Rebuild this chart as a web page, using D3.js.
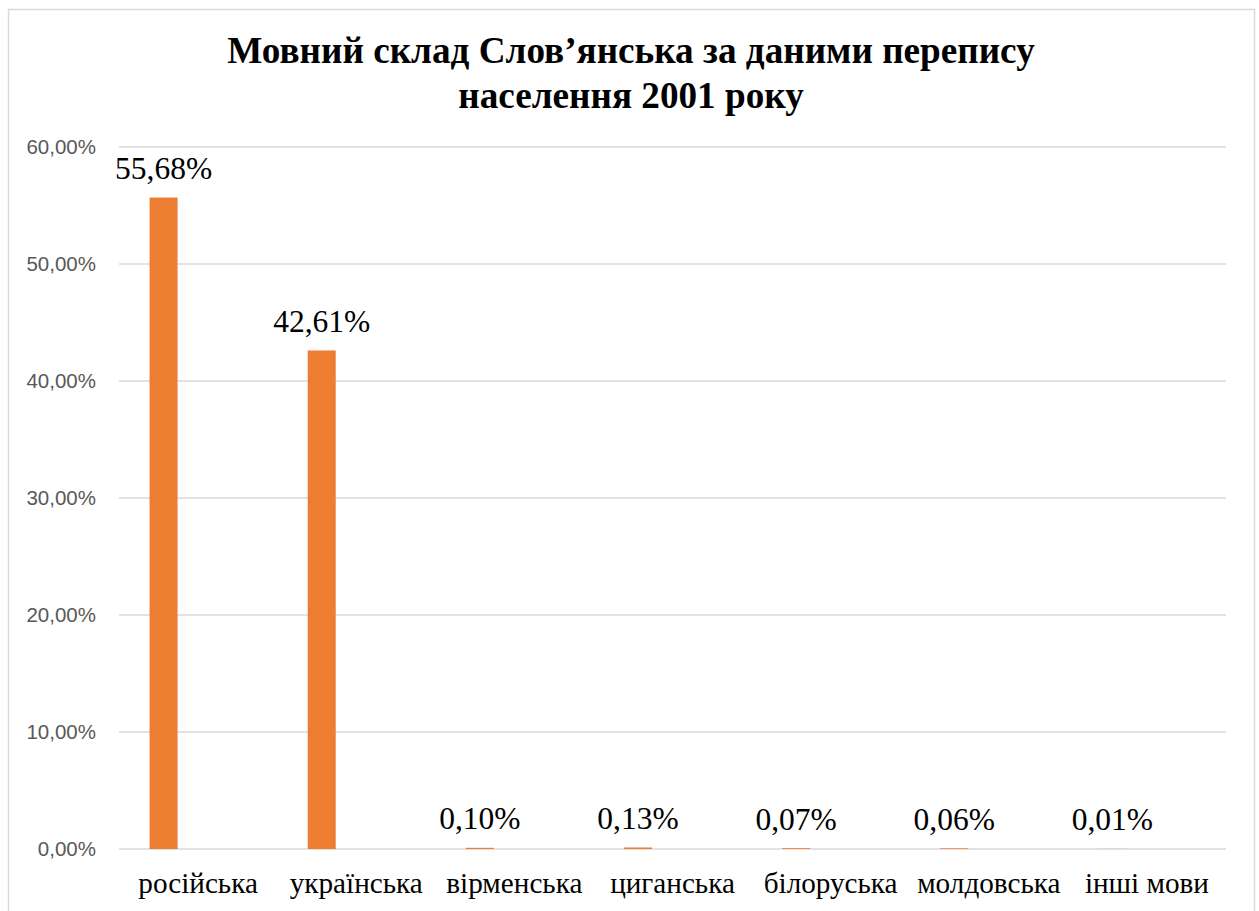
<!DOCTYPE html>
<html><head><meta charset="utf-8">
<script src="https://cdn.jsdelivr.net/npm/d3@7"></script>
<style>html,body{margin:0;padding:0;background:#fff;overflow:hidden}
.serif{font-family:"Liberation Serif","Times New Roman",Times,serif}
.sans{font-family:"Liberation Sans",Arial,sans-serif}
</style>
</head><body>
<script>
const categories = ["російська","українська","вірменська","циганська","білоруська","молдовська","інші мови"];
const values = [55.68, 42.61, 0.10, 0.13, 0.07, 0.06, 0.01];
const valueLabels = ["55,68%","42,61%","0,10%","0,13%","0,07%","0,06%","0,01%"];
const yTicks = [0,10,20,30,40,50,60];
const titleLines = ["Мовний склад Слов’янська за даними перепису","населення 2001 року"];

(function(){
const W=1259,H=911;
const svg=d3.select("body").append("svg").attr("width",W).attr("height",H);
svg.append("rect").attr("x",8.5).attr("y",9.5).attr("width",1246).attr("height",920)
  .attr("fill","#fff").attr("stroke","#d9d9d9").attr("stroke-width",1.5);

const pLeft=119,pRight=1226,pTop=147,pBottom=849;
const x=d3.scaleBand().domain(categories).range([pLeft,pRight]).padding(0);
const y=d3.scaleLinear().domain([0,60]).range([pBottom,pTop]);

svg.append("g").selectAll("line").data(yTicks).join("line")
  .attr("x1",pLeft).attr("x2",pRight).attr("y1",d=>y(d)).attr("y2",d=>y(d))
  .attr("stroke","#d9d9d9").attr("stroke-width",1.5);

const fmt=d=>d3.format(".2f")(d).replace(".",",")+"%";
svg.append("g").attr("class","sans").selectAll("text").data(yTicks).join("text")
  .attr("x",96).attr("y",d=>y(d)).attr("dy","0.35em").attr("text-anchor","end")
  .attr("font-size",20.5).attr("fill","#595959")
  .text(fmt);

const bw=28, off=-34.5;
const bx=c=>x(c)+x.bandwidth()/2+off;
svg.append("g").selectAll("rect").data(categories).join("rect")
  .attr("x",c=>bx(c)-bw/2).attr("width",bw)
  .attr("y",(c,i)=>y(values[i])).attr("height",(c,i)=>pBottom-y(values[i]))
  .attr("fill","#ed7d31");

svg.append("g").attr("class","serif").selectAll("text").data(categories).join("text")
  .attr("x",c=>bx(c)).attr("y",(c,i)=>y(values[i])-18.5).attr("text-anchor","middle")
  .attr("font-size",31.5).attr("fill","#000")
  .text((c,i)=>valueLabels[i]);

svg.append("g").attr("class","serif").selectAll("text").data(categories).join("text")
  .attr("x",c=>x(c)+x.bandwidth()/2).attr("y",893).attr("text-anchor","middle")
  .attr("font-size",29.2).attr("fill","#000")
  .text(c=>c);

svg.append("g").attr("class","serif").selectAll("text").data(titleLines).join("text")
  .attr("x",631).attr("y",(d,i)=>63+i*45).attr("text-anchor","middle")
  .attr("font-weight","bold").attr("font-size",37.2).attr("fill","#000")
  .text(d=>d);
})();
</script>
</body></html>
